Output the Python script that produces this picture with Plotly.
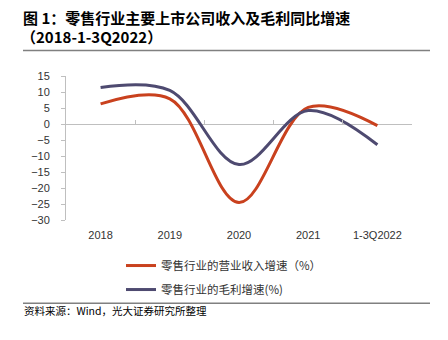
import plotly.graph_objects as go

categories = ["2018", "2019", "2020", "2021", "1-3Q2022"]
revenue_growth = [6.4, 8.0, -24.5, 5.3, -0.4]
gross_profit_growth = [11.5, 10.6, -12.6, 4.3, -6.4]
y_ticks = [15, 10, 5, 0, -5, -10, -15, -20, -25, -30]

W, H = 448, 340
def px(x): return x / W
def py(y): return 1 - y / H

RED = "#C9411E"
PURPLE = "#4E4A70"
AXIS = "#BFBFBF"
NUM_FONT = "Liberation Sans, Arial, Noto Sans CJK SC"
CJK_FONT = "Noto Sans CJK SC"

fig = go.Figure()
fig.add_trace(go.Scatter(
    x=categories, y=revenue_growth, mode="lines",
    line=dict(color=RED, width=3, shape="spline", smoothing=1.0),
    name="零售行业的营业收入增速（%）", legendgroup="a"))
fig.add_trace(go.Scatter(
    x=categories, y=gross_profit_growth, mode="lines",
    line=dict(color=PURPLE, width=3, shape="spline", smoothing=1.0),
    name="零售行业的毛利增速(%)", legendgroup="b"))
# helper trace for boundary ticks on the zero line
fig.add_trace(go.Scatter(x=[None], y=[None], xaxis="x2", yaxis="y",
                         showlegend=False, hoverinfo="skip"))

x0, x1 = px(66), px(412)
y0, y1 = py(222), py(73)
zero_pos = y0 + (0 - (-30)) / 45 * (y1 - y0)

fig.update_layout(
    width=W, height=H,
    margin=dict(l=0, r=0, t=0, b=0),
    paper_bgcolor="white", plot_bgcolor="white",
    showlegend=True,
    legend=dict(x=px(121), y=py(254), xanchor="left", yanchor="top",
                font=dict(family=CJK_FONT, size=11.5, color="#333333"),
                tracegroupgap=5, traceorder="grouped",
                bgcolor="rgba(0,0,0,0)"),
    xaxis=dict(domain=[x0, x1], type="category", range=[-0.5, 4.5],
               showline=False, showgrid=False,
               ticks="", zeroline=False, ticklabelstandoff=7,
               tickfont=dict(family=NUM_FONT, size=11, color="#333333")),
    xaxis2=dict(overlaying="x", anchor="free", position=zero_pos,
                range=[-0.5, 4.5], showgrid=False, showline=False, zeroline=False,
                showticklabels=False, tickmode="array",
                tickvals=[0.5, 1.5, 2.5, 3.5, 4.5],
                ticks="inside", ticklen=4, tickcolor=AXIS, tickwidth=1),
    yaxis=dict(domain=[y0, y1], range=[-30, 15], tickmode="array", tickvals=y_ticks,
               showgrid=False, showline=True, linecolor=AXIS, linewidth=1,
               ticks="outside", ticklen=4, tickcolor=AXIS,
               ticklabelstandoff=9,
               zeroline=True, zerolinecolor=AXIS, zerolinewidth=1,
               tickfont=dict(family=NUM_FONT, size=11, color="#333333")),
)

fig.add_annotation(text="<b>图 1：零售行业主要上市公司收入及毛利同比增速</b>",
                   xref="paper", yref="paper", x=px(22), y=py(12),
                   xanchor="left", yanchor="middle", showarrow=False, borderpad=0,
                   font=dict(family=CJK_FONT, size=15, color="#000000"))
fig.add_annotation(text="<b>（2018-1-3Q2022）</b>",
                   xref="paper", yref="paper", x=px(20), y=py(32),
                   xanchor="left", yanchor="middle", showarrow=False, borderpad=0,
                   font=dict(family=CJK_FONT, size=15, color="#000000"))
fig.add_annotation(text="资料来源：Wind，光大证券研究所整理",
                   xref="paper", yref="paper", x=px(22), y=py(316),
                   xanchor="left", yanchor="middle", showarrow=False,
                   font=dict(family=CJK_FONT, size=10.5, color="#000000"))

for yy in (46, 308):
    fig.add_shape(type="line", xref="paper", yref="paper",
                  x0=px(23), x1=px(430), y0=py(yy), y1=py(yy),
                  line=dict(color="#808080", width=1.5))

fig.write_html("out.html")
